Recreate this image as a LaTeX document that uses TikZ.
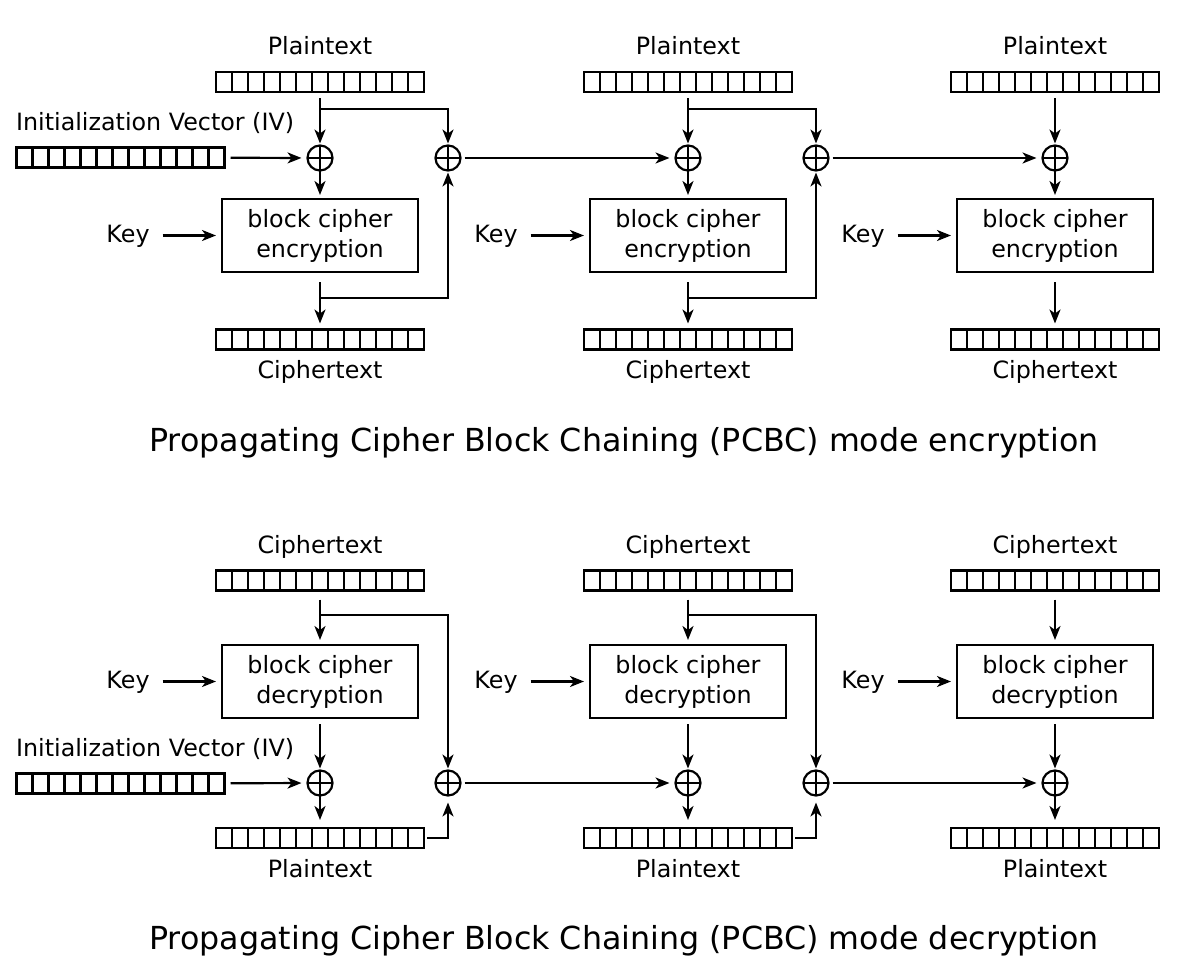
\documentclass[tikz,border=0pt]{standalone}
\usepackage{fontspec}
\setmainfont{DejaVu Sans}
\usetikzlibrary{arrows.meta}

\newcommand{\lblsize}{\fontsize{23.8pt}{30pt}\selectfont}
\newcommand{\ttlsize}{\fontsize{31.7pt}{38pt}\selectfont}

% a register of 13 cells: name, x, y
\newcommand{\bitrow}[3]{%
  \node[bits] (#1) at (#2,#3) {};
  \foreach \k in {1,...,12}
    \draw ([xshift=\k*16pt]#1.north west) -- ([xshift=\k*16pt]#1.south west);
}

\tikzset{
  bits/.style={draw, minimum width=208pt, minimum height=20pt, inner sep=0pt, outer sep=0pt},
  cipher/.style={draw, minimum width=196pt, minimum height=73pt, align=center, font=\lblsize, inner sep=0pt, outer sep=0pt},
  xor/.style={draw, circle, minimum size=25pt, inner sep=0pt, outer sep=0pt,
    path picture={\draw (path picture bounding box.north) -- (path picture bounding box.south)
                        (path picture bounding box.west) -- (path picture bounding box.east);}},
  lbl/.style={font=\lblsize, inner sep=0pt, anchor=base},
  ttl/.style={font=\ttlsize, inner sep=0pt, anchor=base},
  arr/.style={->, shorten <=6pt, shorten >=6pt},
  tap/.style={->, shorten >=2pt},
}

\begin{document}
\begin{tikzpicture}[x=1pt, y=-1pt, line width=2.2pt, >={Stealth[length=14pt,width=11pt,inset=4pt]}]
\useasboundingbox (0,0) rectangle (1186,958);

% Encryption
\node[lbl, anchor=base west] (eIVl) at (15,130) {Initialization Vector (IV)};
\bitrow{eIV}{120.5}{157.5}

\foreach \c/\x in {1/320,2/688,3/1055} {
  \node[lbl] (ePl\c) at (\x,54.5) {Plaintext};
  \bitrow{eP\c}{\x}{82}
  \node[xor] (eX\c) at (\x,158) {};
  \node[lbl] (eK\c) at (\x-192,242) {Key};
  \node[cipher] (eB\c) at (\x,235.5) {block cipher\\encryption};
  \bitrow{eC\c}{\x}{339.5}
  \node[lbl] (eCl\c) at (\x,378) {Ciphertext};

  \draw[tap, shorten <=6pt] (eP\c) -- (eX\c);
  \draw[->, shorten >=4pt] (eX\c) -- (eB\c);
  \draw[arr, shorten <=12pt] (eK\c.east |- eB\c.west) -- (eB\c.west);
  \draw[arr, shorten <=10pt] (eB\c) -- (eC\c);
}

\draw[arr] (eIV) -- (eX1);

% chaining
\foreach \c/\x/\n in {1/320/2,2/688/3} {
  \coordinate (eS\c) at (\x,109);
  \coordinate (eT\c) at (\x,298);
  \node[xor] (eY\c) at (\x+128,158) {};
  \draw[tap] (eS\c) -| (eY\c.north);
  \draw[tap] (eT\c) -| (eY\c.south);
  \draw[arr, shorten <=4pt] (eY\c) -- (eX\n);
}

\node[ttl] (eTtl) at (624,451.5) {Propagating Cipher Block Chaining (PCBC) mode encryption};

% Decryption
\node[lbl, anchor=base west] (dIVl) at (15,756) {Initialization Vector (IV)};
\bitrow{dIV}{120.5}{783.5}

\foreach \c/\x in {1/320,2/688,3/1055} {
  \node[lbl] (dCl\c) at (\x,553.5) {Ciphertext};
  \bitrow{dC\c}{\x}{580.5}
  \node[lbl] (dK\c) at (\x-192,688) {Key};
  \node[cipher] (dB\c) at (\x,681.5) {block cipher\\decryption};
  \node[xor] (dX\c) at (\x,783) {};
  \bitrow{dP\c}{\x}{838}
  \node[lbl] (dPl\c) at (\x,877) {Plaintext};

  \draw[->, shorten <=9pt, shorten >=5pt] (dC\c) -- (dB\c);
  \draw[arr, shorten <=12pt] (dK\c.east |- dB\c.west) -- (dB\c.west);
  \draw[tap, shorten <=6pt] (dB\c) -- (dX\c);
  \draw[->, shorten >=8pt] (dX\c) -- (dP\c);
}

\draw[arr] (dIV) -- (dX1);

% chaining
\foreach \c/\x/\n in {1/320/2,2/688/3} {
  \coordinate (dS\c) at (\x,615);
  \node[xor] (dY\c) at (\x+128,783) {};
  \draw[tap] (dS\c) -| (dY\c.north);
  \draw[->, shorten <=3pt, shorten >=7pt] (dP\c.east) -| (dY\c.south);
  \draw[arr, shorten <=4pt] (dY\c) -- (dX\n);
}

\node[ttl] (dTtl) at (624,949.5) {Propagating Cipher Block Chaining (PCBC) mode decryption};
\end{tikzpicture}
\end{document}
